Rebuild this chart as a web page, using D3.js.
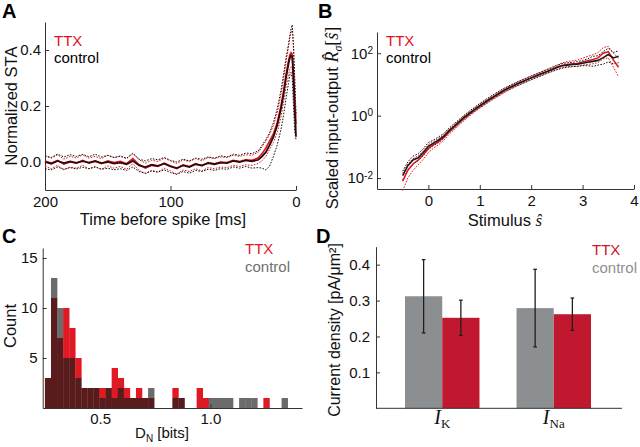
<!DOCTYPE html>
<html><head><meta charset="utf-8">
<script src="https://cdn.jsdelivr.net/npm/d3@7"></script>
<style>
body{margin:0;background:#fff;}
svg{display:block;font-family:"Liberation Sans",Arial,sans-serif;}
</style></head><body>
<svg id="c" width="640" height="447"></svg>
<script>
// ---------- Panel A: STA ----------
const aTime = [200,195,190,185,180,175,170,165,160,155,150,145,140,135,130,125,120,115,110,105,100,95,90,85,80,75,70,65,60,55,50,45,40,35,30,27,24,21,18,15,12,10,8,6,5,4,3,2,1,0];
const aCtrlMean = [0.000,-0.006,0.004,-0.004,0.002,-0.003,0.003,-0.002,0.004,-0.004,0.000,-0.006,-0.002,-0.008,0.004,-0.012,-0.018,-0.010,-0.014,-0.006,-0.016,-0.022,-0.012,-0.018,-0.008,-0.012,-0.004,-0.008,-0.002,-0.004,0.004,0.000,0.006,0.002,0.008,0.020,0.035,0.060,0.090,0.130,0.190,0.240,0.300,0.350,0.370,0.380,0.375,0.300,0.190,0.090];
const aCtrlHi = [0.022,0.016,0.028,0.018,0.026,0.020,0.027,0.019,0.028,0.018,0.024,0.016,0.020,0.014,0.030,0.010,0.004,0.012,0.008,0.016,0.006,0.000,0.010,0.004,0.014,0.010,0.018,0.014,0.022,0.018,0.028,0.024,0.032,0.030,0.040,0.060,0.080,0.105,0.140,0.190,0.255,0.310,0.370,0.420,0.450,0.475,0.490,0.420,0.300,0.170];
const aCtrlLo = [-0.024,-0.028,-0.018,-0.026,-0.020,-0.025,-0.019,-0.024,-0.018,-0.026,-0.022,-0.028,-0.024,-0.030,-0.018,-0.034,-0.040,-0.032,-0.036,-0.028,-0.038,-0.044,-0.034,-0.040,-0.030,-0.034,-0.026,-0.030,-0.024,-0.026,-0.018,-0.022,-0.016,-0.022,-0.020,-0.022,-0.028,-0.015,0.020,0.060,0.115,0.165,0.225,0.280,0.310,0.320,0.300,0.200,0.110,0.080];
const aTtxMean = [0.004,-0.004,0.006,-0.008,0.000,-0.004,0.006,-0.004,0.002,-0.006,0.004,-0.002,0.002,-0.006,0.012,-0.010,-0.022,-0.012,-0.016,-0.004,-0.014,-0.024,-0.010,-0.016,-0.006,-0.014,-0.002,-0.006,0.000,-0.002,0.006,0.002,0.008,0.006,0.015,0.030,0.050,0.075,0.100,0.140,0.200,0.250,0.310,0.360,0.380,0.390,0.385,0.320,0.220,0.135];
const aTtxHi = [0.022,0.014,0.026,0.010,0.020,0.014,0.026,0.014,0.020,0.012,0.024,0.016,0.022,0.012,0.032,0.008,-0.004,0.006,0.002,0.014,0.004,-0.006,0.008,0.002,0.012,0.004,0.016,0.012,0.018,0.016,0.024,0.020,0.026,0.024,0.035,0.055,0.075,0.100,0.130,0.175,0.240,0.290,0.355,0.410,0.440,0.460,0.475,0.400,0.280,0.160];
const aTtxLo = [-0.014,-0.024,-0.012,-0.028,-0.018,-0.022,-0.012,-0.024,-0.016,-0.026,-0.014,-0.022,-0.016,-0.026,-0.006,-0.030,-0.042,-0.030,-0.036,-0.022,-0.032,-0.044,-0.028,-0.034,-0.024,-0.032,-0.020,-0.024,-0.018,-0.020,-0.012,-0.016,-0.010,-0.012,-0.005,0.005,0.020,0.045,0.070,0.105,0.160,0.210,0.265,0.310,0.330,0.340,0.330,0.260,0.170,0.120];
const aXTicks = [200,100,0];
const aYTicks = [0.0,0.2,0.4];

// ---------- Panel B: scaled input-output (log10 values) ----------
const bStim = [-0.5,-0.4,-0.3,-0.2,-0.1,0.0,0.1,0.2,0.3,0.4,0.5,0.6,0.7,0.8,0.9,1.0,1.1,1.2,1.3,1.4,1.5,1.6,1.7,1.8,1.9,2.0,2.1,2.2,2.3,2.4,2.5,2.6,2.7,2.8,2.9,3.0,3.1,3.2,3.3,3.4,3.5,3.6,3.7];
const bCtrlMeanLog = [-1.92,-1.60,-1.42,-1.35,-1.18,-0.98,-0.88,-0.78,-0.66,-0.48,-0.34,-0.19,-0.05,0.08,0.20,0.32,0.43,0.54,0.64,0.74,0.84,0.92,1.00,1.07,1.14,1.21,1.28,1.34,1.41,1.47,1.54,1.60,1.62,1.64,1.65,1.68,1.71,1.74,1.77,1.86,1.96,1.85,1.90];
const bCtrlLoLog = [-2.05,-1.75,-1.55,-1.45,-1.28,-1.08,-0.96,-0.86,-0.73,-0.55,-0.41,-0.26,-0.11,0.02,0.14,0.26,0.37,0.48,0.58,0.68,0.78,0.86,0.94,1.01,1.08,1.15,1.22,1.28,1.35,1.41,1.47,1.52,1.55,1.57,1.58,1.60,1.60,1.58,1.62,1.65,1.72,1.66,1.70];
const bCtrlHiLog = [-1.78,-1.48,-1.30,-1.22,-1.06,-0.86,-0.78,-0.68,-0.57,-0.40,-0.26,-0.12,0.02,0.15,0.27,0.39,0.50,0.61,0.71,0.81,0.90,0.98,1.06,1.13,1.20,1.27,1.34,1.40,1.47,1.53,1.60,1.67,1.69,1.71,1.73,1.77,1.82,1.90,1.92,2.05,2.16,2.02,2.08];
const bTtxMeanLog = [-2.10,-1.75,-1.55,-1.42,-1.25,-1.05,-0.93,-0.83,-0.70,-0.52,-0.37,-0.22,-0.08,0.05,0.18,0.30,0.41,0.52,0.62,0.72,0.82,0.91,0.99,1.07,1.14,1.21,1.28,1.35,1.41,1.48,1.55,1.61,1.64,1.66,1.67,1.72,1.76,1.80,1.85,2.00,2.05,1.78,1.55];
const bTtxLoLog = [-2.40,-2.00,-1.75,-1.58,-1.40,-1.18,-1.04,-0.93,-0.79,-0.60,-0.45,-0.30,-0.15,-0.01,0.12,0.24,0.35,0.46,0.56,0.66,0.76,0.85,0.93,1.01,1.08,1.15,1.22,1.29,1.35,1.42,1.48,1.54,1.57,1.58,1.58,1.62,1.64,1.66,1.70,1.82,1.85,1.55,1.25];
const bTtxHiLog = [-1.85,-1.55,-1.38,-1.28,-1.12,-0.93,-0.83,-0.73,-0.61,-0.44,-0.29,-0.14,0.00,0.12,0.25,0.37,0.48,0.59,0.69,0.79,0.89,0.97,1.05,1.13,1.20,1.27,1.34,1.41,1.48,1.55,1.62,1.69,1.73,1.76,1.78,1.84,1.90,1.95,2.02,2.18,2.22,2.00,1.85];
const bXTicks = [0,1,2,3,4];
const bYTicks = [0.01,1,100];
const bYTickExp = ["-2","0","2"];

// ---------- Panel C: histogram of D_N ----------
const cBinEdges = [0.25,0.2775,0.305,0.3325,0.36,0.3875,0.415,0.4425,0.47,0.4975,0.525,0.5525,0.58,0.6075,0.635,0.6625,0.69,0.7175,0.745,0.7725,0.80,0.8275,0.855,0.8825,0.91,0.9375,0.965,0.9925,1.02,1.0475,1.075,1.1025,1.13,1.1575,1.185,1.2125,1.24,1.2675,1.295,1.3225,1.35];
const cTtxCounts = [3,11,7,10,8,5,2,2,2,2,2,4,3,2,1,2,1,1,0,0,0,2,1,0,0,2,1,0,0,0,0,0,0,0,0,0,1,0,0,0];
const cCtrlCounts = [3,13,10,5,5,3,2,2,2,1,2,1,2,1,1,1,1,2,0,0,0,1,1,0,0,0,0,1,1,1,1,0,1,1,1,0,0,0,0,1];
const cXTicks = [0.5,1.0];
const cYTicks = [5,10,15];

// ---------- Panel D: current density ----------
const dCats = ["K","Na"];
const dCtrl = [0.312,0.279];
const dCtrlErr = [0.102,0.108];
const dTtx = [0.252,0.262];
const dTtxErr = [0.049,0.045];
const dYTicks = [0.1,0.2,0.3,0.4];

// ================= drawing =================
const svg = d3.select("#c");
const SANS = '"Liberation Sans",Arial,sans-serif';
const SERIF = '"Liberation Serif","Times New Roman",serif';
const AX = "#333";

function styleAxis(g, fs){
  g.attr("font-family", SANS).attr("font-size", fs || 15);
  g.select("path.domain").attr("stroke", AX).attr("stroke-width", 1);
  g.selectAll(".tick line").attr("stroke", AX);
  g.selectAll(".tick text").attr("fill", "#111");
}
function txt(x, y, s, opts){
  const t = svg.append("text").attr("x", x).attr("y", y).text(s)
    .attr("font-family", SANS).attr("font-size", 16).attr("fill", "#111");
  if (opts) for (const k in opts) t.attr(k, opts[k]);
  return t;
}

// panel letters
[["A",2,18],["B",318,18],["C",2,243],["D",316,243]].forEach(([s,x,y]) =>
  txt(x, y, s, {"font-size": 20, "font-weight": "bold", fill: "#000"}));

// ---- Panel A ----
{
  const x = d3.scaleLinear().domain([200,0]).range([45,296]);
  const y = d3.scaleLinear().domain([-0.1,0.5]).range([190,22]);
  const gx = svg.append("g").attr("transform","translate(0,190)")
    .call(d3.axisBottom(x).tickValues(aXTicks).tickSizeInner(-4).tickSizeOuter(0).tickPadding(6).tickFormat(d3.format("d")));
  styleAxis(gx);
  const gy = svg.append("g").attr("transform","translate(45,0)")
    .call(d3.axisLeft(y).tickValues(aYTicks).tickSizeInner(-4).tickSizeOuter(0).tickPadding(4).tickFormat(d3.format(".1f")));
  styleAxis(gy);
  const line = arr => d3.line().x((d,i)=>x(aTime[i])).y(d=>y(d))(arr);
  const dash = "1.6,1.4";
  [aTtxHi, aTtxLo].forEach(a => svg.append("path").attr("d", line(a)).attr("fill","none").attr("stroke","#e3101c").attr("stroke-width",1).attr("stroke-dasharray",dash));
  [aCtrlHi, aCtrlLo].forEach(a => svg.append("path").attr("d", line(a)).attr("fill","none").attr("stroke","#111").attr("stroke-width",1).attr("stroke-dasharray",dash));
  svg.append("path").attr("d", line(aTtxMean)).attr("fill","none").attr("stroke","#e3101c").attr("stroke-width",1.6);
  svg.append("path").attr("d", line(aCtrlMean)).attr("fill","none").attr("stroke","#2a0a0a").attr("stroke-width",1.8);
  txt(54, 46, "TTX", {fill:"#e3101c", "font-size":15});
  txt(54, 63, "control", {fill:"#000", "font-size":15});
  txt(163, 225, "Time before spike [ms]", {"text-anchor":"middle", "font-size":16.5});
  txt(0,0,"Normalized STA",{"text-anchor":"middle","font-size":16.5,transform:"translate(17,106) rotate(-90)"});
}

// ---- Panel B ----
{
  const x = d3.scaleLinear().domain([-1,4]).range([377,634]);
  const y = d3.scaleLog().domain([Math.pow(10,-2.35), Math.pow(10,2.68)]).range([189,32]);
  const gx = svg.append("g").attr("transform","translate(0,189)")
    .call(d3.axisBottom(x).tickValues(bXTicks).tickSizeInner(-4).tickSizeOuter(0).tickPadding(6).tickFormat(d3.format("d")));
  styleAxis(gx);
  const gy = svg.append("g").attr("transform","translate(377,0)")
    .call(d3.axisLeft(y).tickValues(bYTicks).tickSizeInner(-4).tickSizeOuter(0).tickPadding(4).tickFormat(""));
  styleAxis(gy);
  gy.selectAll(".tick text").each(function(d,i){
    const t = d3.select(this);
    t.text("10");
    t.append("tspan").attr("dy","-0.45em").attr("font-size",10).text(bYTickExp[i]);
  });
  const line = arr => d3.line().x((d,i)=>x(bStim[i])).y(d=>y(Math.pow(10,d)))(arr);
  const dash = "1.6,1.4";
  [bTtxHiLog, bTtxLoLog].forEach(a => svg.append("path").attr("d", line(a)).attr("fill","none").attr("stroke","#e3101c").attr("stroke-width",1).attr("stroke-dasharray",dash));
  [bCtrlHiLog, bCtrlLoLog].forEach(a => svg.append("path").attr("d", line(a)).attr("fill","none").attr("stroke","#111").attr("stroke-width",1).attr("stroke-dasharray",dash));
  svg.append("path").attr("d", line(bTtxMeanLog)).attr("fill","none").attr("stroke","#e3101c").attr("stroke-width",1.5);
  svg.append("path").attr("d", line(bCtrlMeanLog)).attr("fill","none").attr("stroke","#1a1a1a").attr("stroke-width",1.6);
  txt(386, 46, "TTX", {fill:"#e3101c", "font-size":15});
  txt(386, 63, "control", {fill:"#000", "font-size":15});
  const xl = txt(505, 226, "Stimulus ", {"text-anchor":"middle","font-size":16.5});
  xl.append("tspan").attr("font-family",SERIF).attr("font-style","italic").attr("font-size",17).text("s\u0302");
  const yl = txt(0,0,"Scaled input-output  ",{"text-anchor":"middle","font-size":16.5,transform:"translate(338,118) rotate(-90)"});
  yl.append("tspan").attr("font-family",SERIF).attr("font-style","italic").attr("font-size",18).text("R\u0302");
  yl.append("tspan").attr("font-family",SERIF).attr("font-style","italic").attr("font-size",12).attr("dy",4).text("\u03c3");
  yl.append("tspan").attr("font-family",SERIF).attr("font-size",18).attr("dy",-4).text("[");
  yl.append("tspan").attr("font-family",SERIF).attr("font-style","italic").attr("font-size",18).text("s\u0302");
  yl.append("tspan").attr("font-family",SERIF).attr("font-size",18).text("]");
}

// ---- Panel C ----
{
  const x = d3.scaleLinear().domain([0.24,1.415]).range([42.7,302]);
  const y = d3.scaleLinear().domain([0,16]).range([408,248]);
  const bins = cTtxCounts.map((r,i)=>({x0:cBinEdges[i], x1:cBinEdges[i+1], r, g:cCtrlCounts[i]}));
  const g = svg.append("g");
  bins.forEach(b=>{
    const lo = Math.min(b.r,b.g), hi = Math.max(b.r,b.g);
    const w = x(b.x1)-x(b.x0);
    if (lo>0) g.append("rect").attr("x",x(b.x0)).attr("width",w+0.3).attr("y",y(lo)).attr("height",y(0)-y(lo)).attr("fill","#5a1b1d");
    if (hi>lo) g.append("rect").attr("x",x(b.x0)).attr("width",w+0.3).attr("y",y(hi)).attr("height",y(lo)-y(hi)).attr("fill", b.r>b.g ? "#e01a24" : "#6b6b6b");
  });
  const gx = svg.append("g").attr("transform","translate(0,408)")
    .call(d3.axisBottom(x).tickValues(cXTicks).tickSizeInner(-4).tickSizeOuter(0).tickPadding(5).tickFormat(d3.format(".1f")));
  styleAxis(gx);
  const gy = svg.append("g").attr("transform","translate(42.7,0)")
    .call(d3.axisLeft(y).tickValues(cYTicks).tickSizeInner(-4).tickSizeOuter(0).tickPadding(5).tickFormat(d3.format("d")));
  styleAxis(gy);
  txt(245, 254, "TTX", {fill:"#dd1a22","font-size":15});
  txt(245, 272, "control", {fill:"#707070","font-size":15});
  const xl = txt(162, 438, "D", {"font-size":15, "text-anchor":"middle"});
  xl.append("tspan").attr("font-size",10).attr("dy",4).text("N");
  xl.append("tspan").attr("dy",-4).text(" [bits]");
  txt(0,0,"Count",{"text-anchor":"middle","font-size":16.5,transform:"translate(16,326) rotate(-90)"});
}

// ---- Panel D ----
{
  const y = d3.scaleLinear().domain([0,0.45]).range([408.3,246.7]);
  const xb = d3.scaleBand().domain(dCats).range([405,591]).paddingInner(0.332).paddingOuter(0);
  const xs = d3.scaleBand().domain(["control","TTX"]).range([0,xb.bandwidth()]);
  const g = svg.append("g");
  dCats.forEach((c,i)=>{
    const groups = [["control",dCtrl[i],dCtrlErr[i],"#8c8f92"],["TTX",dTtx[i],dTtxErr[i],"#c0182e"]];
    groups.forEach(([s,v,e,col])=>{
      const bx = xb(c)+xs(s);
      g.append("rect").attr("x",bx).attr("width",xs.bandwidth()).attr("y",y(v)).attr("height",y(0)-y(v)).attr("fill",col);
      const cx = bx + xs.bandwidth()/2;
      g.append("line").attr("x1",cx).attr("x2",cx).attr("y1",y(v+e)).attr("y2",y(v-e)).attr("stroke","#1e1e1e").attr("stroke-width",1.3);
      [v+e, v-e].forEach(yy=> g.append("line").attr("x1",cx-1.8).attr("x2",cx+1.8).attr("y1",y(yy)).attr("y2",y(yy)).attr("stroke","#1e1e1e").attr("stroke-width",1.3));
    });
    const lab = svg.append("text").attr("x", xb(c)+xb.bandwidth()/2).attr("y",424).attr("text-anchor","middle").attr("fill","#111");
    lab.append("tspan").attr("font-family",SERIF).attr("font-style","italic").attr("font-size",20).text("I");
    lab.append("tspan").attr("font-family",SERIF).attr("font-size",13).attr("dy",4).text(c);
  });
  const gy = svg.append("g").attr("transform","translate(376,0)")
    .call(d3.axisLeft(y).tickValues(dYTicks).tickSizeInner(-4).tickSizeOuter(0).tickPadding(6).tickFormat(d3.format(".1f")));
  styleAxis(gy);
  svg.append("line").attr("x1",376).attr("x2",622).attr("y1",408.3).attr("y2",408.3).attr("stroke",AX);
  txt(592, 255, "TTX", {fill:"#cc1428","font-size":15});
  txt(592, 273, "control", {fill:"#8f8f8f","font-size":15});
  txt(0,0,"Current density [pA/\u03bcm\u00b2]",{"text-anchor":"middle","font-size":16,transform:"translate(340,330) rotate(-90)"});
}
</script></body></html>
